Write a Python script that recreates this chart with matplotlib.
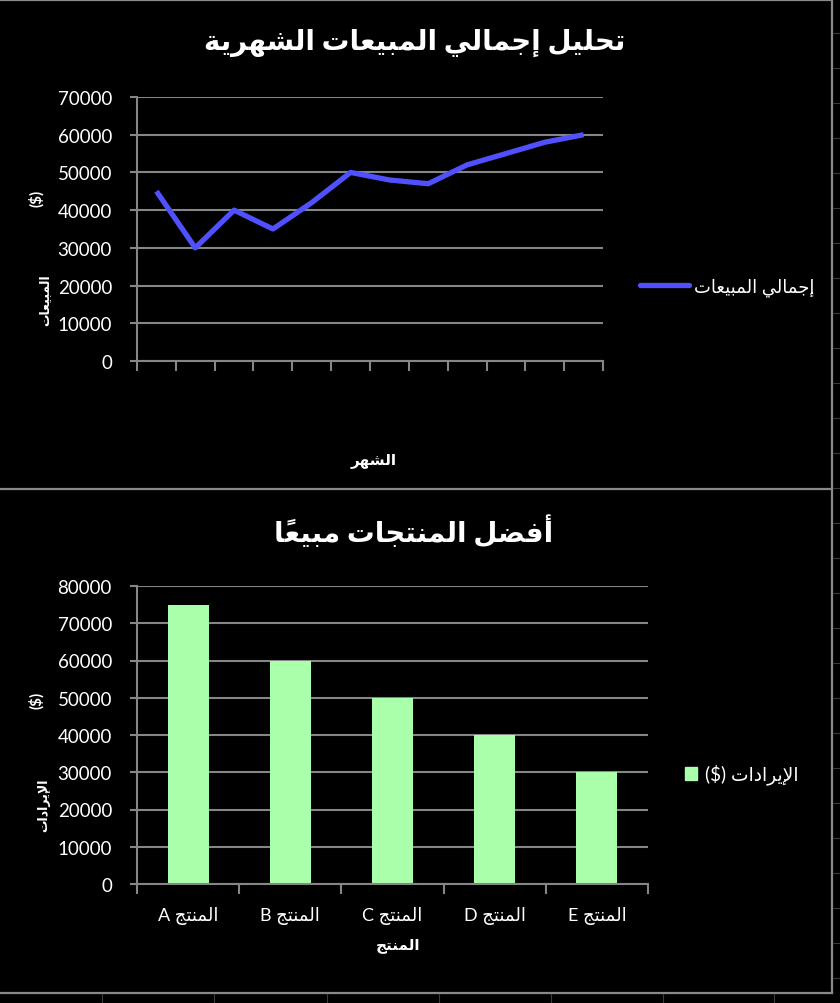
import matplotlib
matplotlib.use("Agg")
import matplotlib.pyplot as plt
from matplotlib.lines import Line2D

# ---- data ----
months = list(range(12))
monthly_sales = [45000, 30000, 40000, 35000, 42000, 50000, 48000, 47000, 52000, 55000, 58000, 60000]

products = ["المنتج A", "المنتج B", "المنتج C", "المنتج D", "المنتج E"]
revenue = [75000, 60000, 50000, 40000, 30000]

title_top = "تحليل إجمالي المبيعات الشهرية"
title_bottom = "أفضل المنتجات مبيعًا"
legend_top = "إجمالي المبيعات"
legend_bottom = "الإيرادات ($)"
xlabel_top = "الشهر"
xlabel_bottom = "المنتج"
ylabel_top = "المبيعات"
ylabel_bottom = "الإيرادات"

# ---- minimal arabic shaping (no reshaper lib available) ----
FORMS = {
    "\u0627": ("\uFE8D", "\uFE8E", None, None),
    "\u0623": ("\uFE83", "\uFE84", None, None),
    "\u0625": ("\uFE87", "\uFE88", None, None),
    "\u0628": ("\uFE8F", "\uFE90", "\uFE91", "\uFE92"),
    "\u0629": ("\uFE93", "\uFE94", None, None),
    "\u062A": ("\uFE95", "\uFE96", "\uFE97", "\uFE98"),
    "\u062C": ("\uFE9D", "\uFE9E", "\uFE9F", "\uFEA0"),
    "\u062D": ("\uFEA1", "\uFEA2", "\uFEA3", "\uFEA4"),
    "\u062F": ("\uFEA9", "\uFEAA", None, None),
    "\u0631": ("\uFEAD", "\uFEAE", None, None),
    "\u0634": ("\uFEB5", "\uFEB6", "\uFEB7", "\uFEB8"),
    "\u0636": ("\uFEBD", "\uFEBE", "\uFEBF", "\uFEC0"),
    "\u0639": ("\uFEC9", "\uFECA", "\uFECB", "\uFECC"),
    "\u0641": ("\uFED1", "\uFED2", "\uFED3", "\uFED4"),
    "\u0644": ("\uFEDD", "\uFEDE", "\uFEDF", "\uFEE0"),
    "\u0645": ("\uFEE1", "\uFEE2", "\uFEE3", "\uFEE4"),
    "\u0646": ("\uFEE5", "\uFEE6", "\uFEE7", "\uFEE8"),
    "\u0647": ("\uFEE9", "\uFEEA", "\uFEEB", "\uFEEC"),
    "\u064A": ("\uFEF1", "\uFEF2", "\uFEF3", "\uFEF4"),
}
LAM_ALEF = {"\u0627": ("\uFEFB", "\uFEFC"), "\u0623": ("\uFEF7", "\uFEF8"),
            "\u0625": ("\uFEF9", "\uFEFA")}
MARKS = "\u064B\u064C\u064D\u064E\u064F\u0650\u0651\u0652"
MIRROR = {"(": ")", ")": "("}


def forms_of(key):
    if len(key) == 3 and key.startswith("LA"):
        iso, fin = LAM_ALEF[key[2]]
        return (iso, fin, None, None)
    return FORMS.get(key)


def ar(text):
    items = []
    i = 0
    while i < len(text):
        c = text[i]
        if c in MARKS and items:
            items[-1][1] += c
            i += 1
            continue
        if c == "\u0644" and i + 1 < len(text) and text[i + 1] in LAM_ALEF:
            items.append(["LA" + text[i + 1], ""])
            i += 2
            continue
        items.append([c, ""])
        i += 1
    out = []
    for k, (key, marks) in enumerate(items):
        f = forms_of(key)
        if f is None:
            out.append(marks + MIRROR.get(key, key))
            continue
        prev = forms_of(items[k - 1][0]) if k > 0 else None
        nxt = forms_of(items[k + 1][0]) if k + 1 < len(items) else None
        jp = prev is not None and prev[2] is not None
        jn = nxt is not None and f[2] is not None
        if jp and jn:
            g = f[3]
        elif jp:
            g = f[1]
        elif jn:
            g = f[2]
        else:
            g = f[0]
        # mark goes before its base so it lands on it when drawn left to right
        out.append(marks + g)
    runs = []
    for cl in out:
        if cl.isascii() and cl.isalnum():
            if runs and runs[-1][0]:
                runs[-1][1].append(cl)
            else:
                runs.append([True, [cl]])
        else:
            runs.append([False, [cl]])
    vis = []
    for ltr, cls in reversed(runs):
        vis.extend(cls)
    return "".join(vis)


plt.rcParams["font.family"] = ["Lato", "DejaVu Sans"]

BG = "black"
GRID = "#868686"
LINE = "#5050ff"
BAR = "#aaffaa"
W, H = 840, 1004


def fx(px):
    return px / W


def fy(py):
    return 1 - py / H


fig = plt.figure(figsize=(8.4, 10.04), dpi=100, facecolor=BG)


def style_axes(ax):
    ax.set_facecolor(BG)
    for s in ("top", "right"):
        ax.spines[s].set_visible(False)
    for s in ("left", "bottom"):
        ax.spines[s].set_color(GRID)
        ax.spines[s].set_linewidth(1.5)
    ax.yaxis.grid(True, color=GRID, linewidth=1.5)
    ax.set_axisbelow(True)
    ax.tick_params(axis="y", colors=GRID, labelcolor="white", labelsize=13.5,
                   length=5, width=1.5, pad=13)
    ax.tick_params(axis="x", colors=GRID, labelcolor="white", length=7, width=1.5)


# ---- top: line chart ----
ax1 = fig.add_axes([fx(137), fy(362), fx(466), 264 / H])
style_axes(ax1)
ax1.plot(months, monthly_sales, color=LINE, linewidth=3.8, solid_capstyle="butt")
ax1.set_xlim(-0.5, 11.5)
ax1.set_xticks([m - 0.5 for m in months] + [11.5])
ax1.set_xticklabels([])
ax1.set_ylim(0, 70000)
ax1.set_yticks(range(0, 70001, 10000))

# ---- bottom: bar chart ----
ax2 = fig.add_axes([fx(137), fy(885), fx(511), 298 / H])
style_axes(ax2)
xs = list(range(len(products)))
ax2.bar(xs, revenue, width=0.4, color=BAR)
ax2.set_xlim(-0.5, 4.5)
ax2.set_xticks([x - 0.5 for x in xs] + [4.5])
ax2.set_xticklabels([])
ax2.set_xticks(xs, minor=True)
ax2.set_xticklabels([ar(p) for p in products], minor=True)
ax2.tick_params(axis="x", which="minor", length=0, pad=16, labelsize=13, labelcolor="white")
ax2.set_ylim(0, 80000)
ax2.set_yticks(range(0, 80001, 10000))

# ---- titles and axis labels ----
fig.text(fx(415), fy(43), ar(title_top), color="white", fontsize=20,
         fontweight="bold", ha="center", va="center")
fig.text(fx(414), fy(531), ar(title_bottom), color="white", fontsize=20,
         fontweight="bold", ha="center", va="center")
fig.text(fx(374), fy(461), ar(xlabel_top), color="white", fontsize=11,
         fontweight="bold", ha="center", va="center")
fig.text(fx(398), fy(946), ar(xlabel_bottom), color="white", fontsize=11,
         fontweight="bold", ha="center", va="center")
fig.text(fx(36), fy(198), "($)", color="white", fontsize=11, fontweight="bold",
         rotation=90, ha="center", va="center")
fig.text(fx(44), fy(300), ar(ylabel_top), color="white", fontsize=9,
         fontweight="bold", rotation=90, ha="center", va="center")
fig.text(fx(36), fy(700), "($)", color="white", fontsize=11, fontweight="bold",
         rotation=90, ha="center", va="center")
fig.text(fx(44), fy(805), ar(ylabel_bottom), color="white", fontsize=9,
         fontweight="bold", rotation=90, ha="center", va="center")

# ---- legends ----
h1 = Line2D([], [], color=LINE, linewidth=3.8, solid_capstyle="round")
fig.legend([h1], [ar(legend_top)], loc="center left",
           bbox_to_anchor=(fx(624), fy(288)), frameon=False, fontsize=13,
           labelcolor="white", handlelength=2.7, handletextpad=0.25)
fig.legend([plt.Rectangle((0, 0), 1, 1, color=BAR)], [ar(legend_bottom)],
           loc="center left", bbox_to_anchor=(fx(668), fy(775)), frameon=False,
           fontsize=13.5, labelcolor="white", handlelength=0.65, handleheight=0.7,
           handletextpad=0.4)

# ---- chart borders and sheet cell lines ----
border = dict(color="#8a8a8a", linewidth=1.6, transform=fig.transFigure)
fig.add_artist(Line2D([0, fx(832)], [fy(1), fy(1)], **border))
fig.add_artist(Line2D([0, fx(832)], [fy(490), fy(490)], **border))
fig.add_artist(Line2D([0, fx(832)], [fy(994), fy(994)], **border))
fig.add_artist(Line2D([fx(832), fx(832)], [fy(0), fy(994)], **border))
cell = dict(color="#3a3a3a", linewidth=0.8, transform=fig.transFigure)
for cx in [102, 214, 327, 439, 551, 663, 774]:
    fig.add_artist(Line2D([fx(cx), fx(cx)], [fy(995), 0], **cell))
for ry in range(34, 1004, 35):
    fig.add_artist(Line2D([fx(833), 1], [fy(ry), fy(ry)], **cell))

fig.savefig("out.png", dpi=100, facecolor=BG)
